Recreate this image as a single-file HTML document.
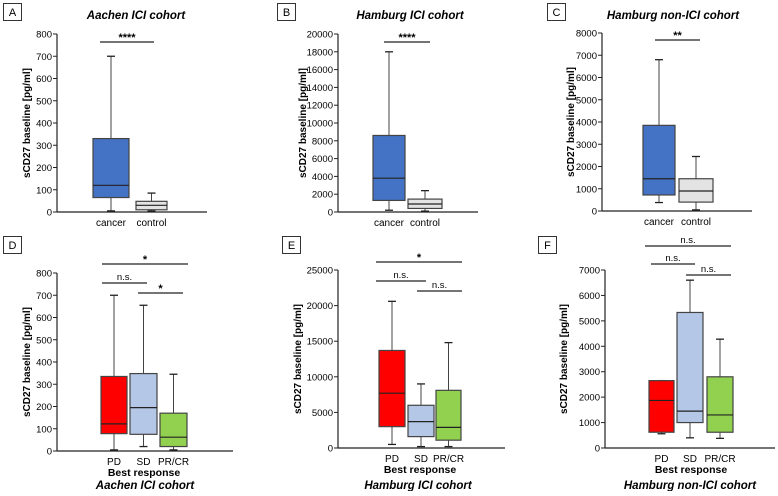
<!DOCTYPE html>
<html><head><meta charset="utf-8"><style>
body{margin:0;background:#fff;}
svg{font-family:"Liberation Sans",Arial,sans-serif;}
</style></head><body>
<svg id="fig" width="778" height="491" viewBox="0 0 778 491"></svg>
<script>
// ---- data ----
const panelIds = ["A","B","C","D","E","F"];
const panelTitles = ["Aachen ICI cohort","Hamburg ICI cohort","Hamburg non-ICI cohort","Aachen ICI cohort","Hamburg ICI cohort","Hamburg non-ICI cohort"];
const yMaxes = [800,20000,8000,800,25000,7000];
const yStepVals = [100,2000,1000,100,5000,1000];
const catsTop = ["cancer","control"];
const catsBottom = ["PD","SD","PR/CR"];
// [min, q1, median, q3, max]
const statsA = [[5,65,120,330,700],[5,10,30,48,85]];
const statsB = [[200,1300,3800,8600,18000],[100,400,900,1450,2400]];
const statsC = [[380,720,1450,3850,6800],[50,400,900,1450,2450]];
const statsD = [[5,78,122,335,700],[20,75,195,348,655],[5,20,62,170,345]];
const statsE = [[500,3000,7700,13700,20600],[200,1600,3700,6000,9000],[200,1100,2900,8100,14800]];
const statsF = [[560,620,1870,2650,2650],[400,1000,1450,5330,6600],[380,620,1300,2800,4280]];
const sigTop = [["****"],["****"],["**"]];
const sigBottomLabels = [["*","n.s.","*"],["*","n.s.","n.s."],["n.s.","n.s.","n.s."]];

// ---- layout ----
const NS="http://www.w3.org/2000/svg";
const svg=document.getElementById('fig');
function mk(tag,attrs,parent){const e=document.createElementNS(NS,tag);for(const k in attrs)e.setAttribute(k,attrs[k]);(parent||svg).appendChild(e);return e;}
const layouts=[
 {ax:57,top:34,bot:212,xend:207,lx:3,ly:3,ylab:27,tx:136,ty:19,boxes:[[93,129],[136,167]],fills:["#4472c4","#e3e3e3"],sig:[[100,154,42]],stats:statsA,cats:catsTop},
 {ax:338,top:34,bot:212,xend:478,lx:277,ly:3,ylab:303,tx:410,ty:19,boxes:[[373,405],[408,442]],fills:["#4472c4","#e3e3e3"],sig:[[384,430,42]],stats:statsB,cats:catsTop},
 {ax:602,top:33,bot:211,xend:752,lx:547,ly:3,ylab:571,tx:673,ty:19,boxes:[[643,675],[679,713]],fills:["#4472c4","#e3e3e3"],sig:[[655,700,40]],stats:statsC,cats:catsTop},
 {ax:57,top:273,bot:451,xend:233,lx:3,ly:236,ylab:27,tx:145,ty:489,boxes:[[101,127],[130,157],[160,187]],fills:["#ff0000","#b4c7e7","#92d050"],sig:[[102,188,264],[102,147,283],[138,183,293]],stats:statsD,cats:catsBottom},
 {ax:338,top:270,bot:448,xend:505,lx:282,ly:236,ylab:298,tx:418,ty:489,boxes:[[379,405],[408,434],[436,461]],fills:["#ff0000","#b4c7e7","#92d050"],sig:[[376,462,262],[376,426,281],[417,462,291]],stats:statsE,cats:catsBottom},
 {ax:605,top:270,bot:448,xend:775,lx:538,ly:236,ylab:564,tx:690,ty:489,boxes:[[649,674],[677,703],[707,733]],fills:["#ff0000","#b4c7e7","#92d050"],sig:[[645,731,246],[651,695,264],[686,731,275]],stats:statsF,cats:catsBottom}
];

layouts.forEach((L,i)=>{
  const g=mk('g',{});
  
  
  const y=v=>L.bot-(v/yMaxes[i])*(L.bot-L.top);
  const lb=mk('rect',{x:L.lx+0.5,y:L.ly+0.5,width:18,height:17,fill:'#fff',stroke:'#333'},g);
  
  
  const lt=mk('text',{x:L.lx+9.5,y:L.ly+13,'text-anchor':'middle','font-size':11},g);
  lt.textContent=panelIds[i];
  
  
  const tt=mk('text',{x:L.tx,y:L.ty,'text-anchor':'middle','font-size':11.5,'font-weight':'bold','font-style':'italic'},g);
  tt.textContent=panelTitles[i];
  
  
  const ya=mk('line',{x1:L.ax,y1:L.top,x2:L.ax,y2:L.bot,stroke:'#222','stroke-width':1.2},g);
  
  
  const xa=mk('line',{x1:L.ax,y1:L.bot,x2:L.xend,y2:L.bot,stroke:'#222','stroke-width':1.2},g);
  
  
  for(let v=0;v<=yMaxes[i];v+=yStepVals[i]){
    mk('line',{x1:L.ax-4,y1:y(v),x2:L.ax,y2:y(v),stroke:'#222'},g);
    const t=mk('text',{x:L.ax-5,y:y(v)+3.5,'text-anchor':'end','font-size':9.5},g);
    t.textContent=v;
    
    
  }
  const yl=mk('text',{x:0,y:0,'text-anchor':'middle','font-size':10,'font-weight':'bold',transform:`translate(${L.ylab+3},${(L.top+L.bot)/2}) rotate(-90)`},g);
  yl.textContent='sCD27 baseline [pg/ml]';
  
  
  L.stats.forEach((s,j)=>{
    const [x0,x1]=L.boxes[j];const cx=(x0+x1)/2;
    const bg=mk('g',{},g);
    
    
    mk('line',{x1:cx,y1:y(s[0]),x2:cx,y2:y(s[4]),stroke:'#444'},bg);
    mk('line',{x1:cx-4,y1:y(s[0]),x2:cx+4,y2:y(s[0]),stroke:'#222','stroke-width':1.3},bg);
    mk('line',{x1:cx-4,y1:y(s[4]),x2:cx+4,y2:y(s[4]),stroke:'#222','stroke-width':1.3},bg);
    mk('rect',{x:x0,y:y(s[3]),width:x1-x0,height:y(s[1])-y(s[3]),fill:L.fills[j],stroke:'#444','stroke-width':1.2},bg);
    mk('line',{x1:x0,y1:y(s[2]),x2:x1,y2:y(s[2]),stroke:'#222','stroke-width':1.2},bg);
    const ct=mk('text',{x:cx,y:L.bot+14,'text-anchor':'middle','font-size':10},g);
    ct.textContent=L.cats[j];
    
    
  });
  if(i>=3){
    const bx=mk('text',{x:(L.boxes[0][0]+L.boxes[2][1])/2,y:L.bot+25,'text-anchor':'middle','font-size':10.5,'font-weight':'bold'},g);
    bx.textContent='Best response';
    
    
  }
  const labels=i<3?sigTop[i]:sigBottomLabels[i-3];
  L.sig.forEach((sg,k)=>{
    mk('line',{x1:sg[0],y1:sg[2],x2:sg[1],y2:sg[2],stroke:'#222','stroke-width':1.2},g);
    const st=mk('text',{x:(sg[0]+sg[1])/2,y:sg[2]-(labels[k]==='n.s.'?3:1),'text-anchor':'middle','font-size':labels[k]==='n.s.'?9.5:11,'font-weight':labels[k]==='n.s.'?'normal':'bold'},g);
    st.textContent=labels[k];
    
    
  });
});
</script>
</body></html>
